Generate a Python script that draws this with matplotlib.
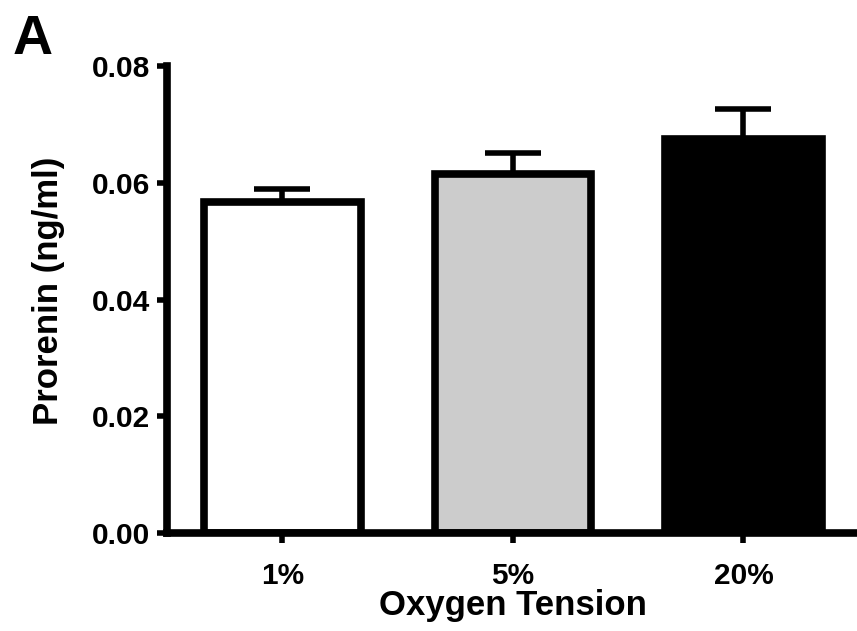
import matplotlib
matplotlib.use('Agg')
import matplotlib.pyplot as plt

# Data
groups = ['1%', '5%', '20%']
prorenin = [0.0567, 0.0616, 0.0676]
sem = [0.0022, 0.0036, 0.0050]
bar_colors = ['white', '#cccccc', 'black']

plt.rcParams['font.family'] = ['Liberation Sans', 'DejaVu Sans']
plt.rcParams['font.weight'] = 'bold'

fig = plt.figure(figsize=(8.57, 6.31), dpi=100)
ax = fig.add_axes([0.195, 0.155, 0.807, 0.74])

x = list(range(len(groups)))
ax.bar(x, prorenin, width=0.68, color=bar_colors, edgecolor='black',
       linewidth=5.5, zorder=2)
ax.errorbar(x, prorenin, yerr=[[0] * len(sem), sem], fmt='none',
            ecolor='black', elinewidth=4, capsize=20, capthick=4, zorder=1)

ax.set_xlim(-0.5, 2.5)
ax.set_ylim(0, 0.08)
ax.set_yticks([0.00, 0.02, 0.04, 0.06, 0.08])
ax.set_yticklabels(['0.00', '0.02', '0.04', '0.06', '0.08'])
ax.set_xticks(x)
ax.set_xticklabels(groups)

for side in ['top', 'right']:
    ax.spines[side].set_visible(False)
for side in ['left', 'bottom']:
    ax.spines[side].set_linewidth(5.5)
ax.tick_params(axis='both', width=4, length=7, labelsize=21.5, pad=5)
ax.tick_params(axis='x', pad=14)

ax.set_xlabel('Oxygen Tension', fontsize=25, fontweight='bold', labelpad=-1)
ax.set_ylabel('Prorenin (ng/ml)', fontsize=25, fontweight='bold')
ax.yaxis.set_label_coords(-0.148, 0.52)

fig.text(0.015, 0.915, 'A', fontsize=40, fontweight='bold')

fig.savefig('out.png', dpi=100)
